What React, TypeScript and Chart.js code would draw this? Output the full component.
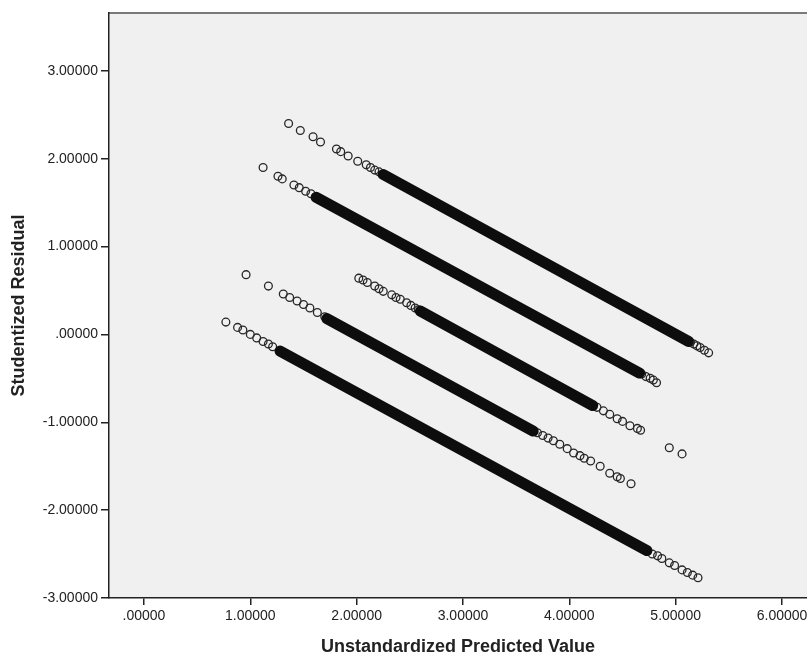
import React, { useEffect, useRef } from "react";
import { Chart, registerables } from "chart.js";

Chart.register(...registerables);

// Axis ticks
const X_TICKS = [0, 1, 2, 3, 4, 5, 6];
const X_TICK_LABELS = [".00000", "1.00000", "2.00000", "3.00000", "4.00000", "5.00000", "6.00000"];
const Y_TICKS = [-3, -2, -1, 0, 1, 2, 3];
const Y_TICK_LABELS = ["-3.00000", "-2.00000", "-1.00000", ".00000", "1.00000", "2.00000", "3.00000"];
const X_MIN = -0.329;
const X_MAX = 6.235;
const Y_MIN = -3;
const Y_MAX = 3.658;

// Response = 5 band
const L5_START_X = [1.36, 1.47, 1.59, 1.66, 1.81, 1.85, 1.92, 2.01, 2.09, 2.13, 2.17, 2.21, 2.24, 2.28, 2.31, 2.35, 2.38];
const L5_START_Y = [2.40, 2.32, 2.25, 2.19, 2.11, 2.08, 2.03, 1.97, 1.93, 1.90, 1.87, 1.85, 1.82, 1.80, 1.78, 1.75, 1.73];
const L5_DENSE_X = [2.25, 5.12];
const L5_DENSE_Y = [1.82, -0.08];
const L5_END_X = [5.14, 5.17, 5.20, 5.23, 5.27, 5.31];
const L5_END_Y = [-0.09, -0.11, -0.13, -0.15, -0.18, -0.21];

// Response = 4 band
const L4_START_X = [1.12, 1.26, 1.30, 1.41, 1.46, 1.52, 1.57, 1.61];
const L4_START_Y = [1.90, 1.80, 1.77, 1.70, 1.67, 1.63, 1.60, 1.56];
const L4_DENSE_X = [1.62, 4.66];
const L4_DENSE_Y = [1.56, -0.44];
const L4_END_X = [4.68, 4.72, 4.76, 4.79, 4.82];
const L4_END_Y = [-0.45, -0.48, -0.50, -0.52, -0.55];

// Response = 3 band
const L3_START_X = [2.02, 2.06, 2.10, 2.17, 2.21, 2.25, 2.33, 2.37, 2.41, 2.47, 2.51, 2.55, 2.58, 2.62];
const L3_START_Y = [0.64, 0.62, 0.59, 0.55, 0.52, 0.49, 0.45, 0.42, 0.40, 0.36, 0.33, 0.30, 0.28, 0.25];
const L3_DENSE_X = [2.60, 4.22];
const L3_DENSE_Y = [0.265, -0.81];
const L3_END_X = [4.26, 4.32, 4.38, 4.45, 4.50, 4.57, 4.64, 4.67, 4.94, 5.06];
const L3_END_Y = [-0.83, -0.87, -0.91, -0.96, -0.99, -1.04, -1.07, -1.09, -1.29, -1.36];

// Response = 2 band
const L2_START_X = [0.96, 1.17, 1.31, 1.37, 1.44, 1.50, 1.56, 1.63, 1.70];
const L2_START_Y = [0.68, 0.55, 0.46, 0.42, 0.38, 0.34, 0.30, 0.25, 0.20];
const L2_DENSE_X = [1.72, 3.66];
const L2_DENSE_Y = [0.18, -1.10];
const L2_END_X = [3.70, 3.75, 3.80, 3.85, 3.91, 3.98, 4.04, 4.10, 4.14, 4.20, 4.29, 4.38, 4.45, 4.48, 4.58];
const L2_END_Y = [-1.12, -1.15, -1.18, -1.21, -1.25, -1.30, -1.35, -1.38, -1.41, -1.44, -1.50, -1.58, -1.62, -1.64, -1.70];

// Response = 1 band
const L1_START_X = [0.77, 0.88, 0.93, 1.00, 1.06, 1.12, 1.17, 1.21];
const L1_START_Y = [0.14, 0.08, 0.05, 0.00, -0.04, -0.08, -0.11, -0.14];
const L1_DENSE_X = [1.28, 4.73];
const L1_DENSE_Y = [-0.19, -2.46];
const L1_END_X = [4.78, 4.83, 4.87, 4.94, 4.99, 5.06, 5.11, 5.16, 5.21];
const L1_END_Y = [-2.50, -2.52, -2.55, -2.60, -2.63, -2.68, -2.71, -2.74, -2.77];

const FONT = "'Liberation Sans', Arial, sans-serif";

function pts(xs: number[], ys: number[]) {
  return xs.map((x, i) => ({ x, y: ys[i] }));
}

function circles(xs: number[], ys: number[]) {
  return {
    data: pts(xs, ys),
    showLine: false,
    pointStyle: "circle",
    pointRadius: 3.9,
    pointBorderWidth: 1.3,
    pointBorderColor: "#262626",
    pointBackgroundColor: "rgba(0,0,0,0)",
  };
}

function band(xs: number[], ys: number[]) {
  return {
    data: pts(xs, ys),
    showLine: true,
    borderColor: "#0d0d0d",
    borderWidth: 11,
    borderCapStyle: "round",
    pointRadius: 0,
    fill: false,
  };
}

const bgPlugin = {
  id: "plotBackground",
  beforeDraw(chart: any) {
    const { ctx, chartArea } = chart;
    const { left, top, right, bottom } = chartArea;
    ctx.save();
    ctx.fillStyle = "#F0F0F0";
    ctx.fillRect(left, top, right - left, bottom - top);
    ctx.strokeStyle = "#7a7a7a";
    ctx.lineWidth = 2;
    ctx.beginPath();
    ctx.moveTo(left, top);
    ctx.lineTo(right, top);
    ctx.stroke();
    ctx.restore();
  },
};

export default function App() {
  const ref = useRef<HTMLCanvasElement>(null);

  useEffect(() => {
    document.body.style.margin = "0";
    const canvas = ref.current;
    if (!canvas) return;
    const chart = new Chart(canvas, {
      type: "scatter",
      data: {
        datasets: [
          band(L5_DENSE_X, L5_DENSE_Y),
          band(L4_DENSE_X, L4_DENSE_Y),
          band(L3_DENSE_X, L3_DENSE_Y),
          band(L2_DENSE_X, L2_DENSE_Y),
          band(L1_DENSE_X, L1_DENSE_Y),
          circles(L5_START_X, L5_START_Y),
          circles(L5_END_X, L5_END_Y),
          circles(L4_START_X, L4_START_Y),
          circles(L4_END_X, L4_END_Y),
          circles(L3_START_X, L3_START_Y),
          circles(L3_END_X, L3_END_Y),
          circles(L2_START_X, L2_START_Y),
          circles(L2_END_X, L2_END_Y),
          circles(L1_START_X, L1_START_Y),
          circles(L1_END_X, L1_END_Y),
        ] as any,
      },
      options: {
        animation: false,
        responsive: false,
        maintainAspectRatio: false,
        layout: { autoPadding: false, padding: { top: 13, right: 0, left: 0, bottom: 0 } },
        plugins: {
          legend: { display: false },
          tooltip: { enabled: false },
        },
        scales: {
          x: {
            type: "linear",
            position: "bottom",
            min: X_MIN,
            max: X_MAX,
            afterBuildTicks: (scale: any) => {
              scale.ticks = X_TICKS.map((v) => ({ value: v }));
            },
            afterFit: (scale: any) => {
              scale.height = 60;
              scale.paddingLeft = 0;
              scale.paddingRight = 0;
            },
            ticks: {
              autoSkip: false,
              maxRotation: 0,
              padding: 3,
              color: "#222222",
              font: { family: FONT, size: 14 },
              callback: (v: any) => {
                const i = X_TICKS.indexOf(Number(v));
                return i >= 0 ? X_TICK_LABELS[i] : "";
              },
            },
            grid: {
              display: true,
              drawOnChartArea: false,
              drawTicks: true,
              tickLength: 7,
              color: "#222222",
              lineWidth: 1.5,
            },
            border: { display: true, color: "#222222", width: 1.5 },
            title: {
              display: true,
              text: "Unstandardized Predicted Value",
              color: "#222222",
              font: { family: FONT, size: 18, weight: "bold" },
              padding: { top: 0, bottom: 0 },
            },
          },
          y: {
            type: "linear",
            position: "left",
            min: Y_MIN,
            max: Y_MAX,
            afterBuildTicks: (scale: any) => {
              scale.ticks = Y_TICKS.map((v) => ({ value: v }));
            },
            afterFit: (scale: any) => {
              scale.width = 109;
              scale.paddingTop = 0;
              scale.paddingBottom = 0;
            },
            ticks: {
              autoSkip: false,
              padding: 3,
              color: "#222222",
              font: { family: FONT, size: 14 },
              callback: (v: any) => {
                const i = Y_TICKS.indexOf(Number(v));
                return i >= 0 ? Y_TICK_LABELS[i] : "";
              },
            },
            grid: {
              display: true,
              drawOnChartArea: false,
              drawTicks: true,
              tickLength: 8,
              color: "#222222",
              lineWidth: 1.5,
            },
            border: { display: true, color: "#222222", width: 1.5 },
            title: {
              display: true,
              text: "Studentized Residual",
              color: "#222222",
              font: { family: FONT, size: 18, weight: "bold" },
              padding: { top: 8, bottom: 0 },
            },
          },
        },
      },
      plugins: [bgPlugin],
    });
    return () => chart.destroy();
  }, []);

  return (
    <div style={{ width: 807, height: 658 }}>
      <canvas ref={ref} width={807} height={658} style={{ display: "block" }} />
    </div>
  );
}
